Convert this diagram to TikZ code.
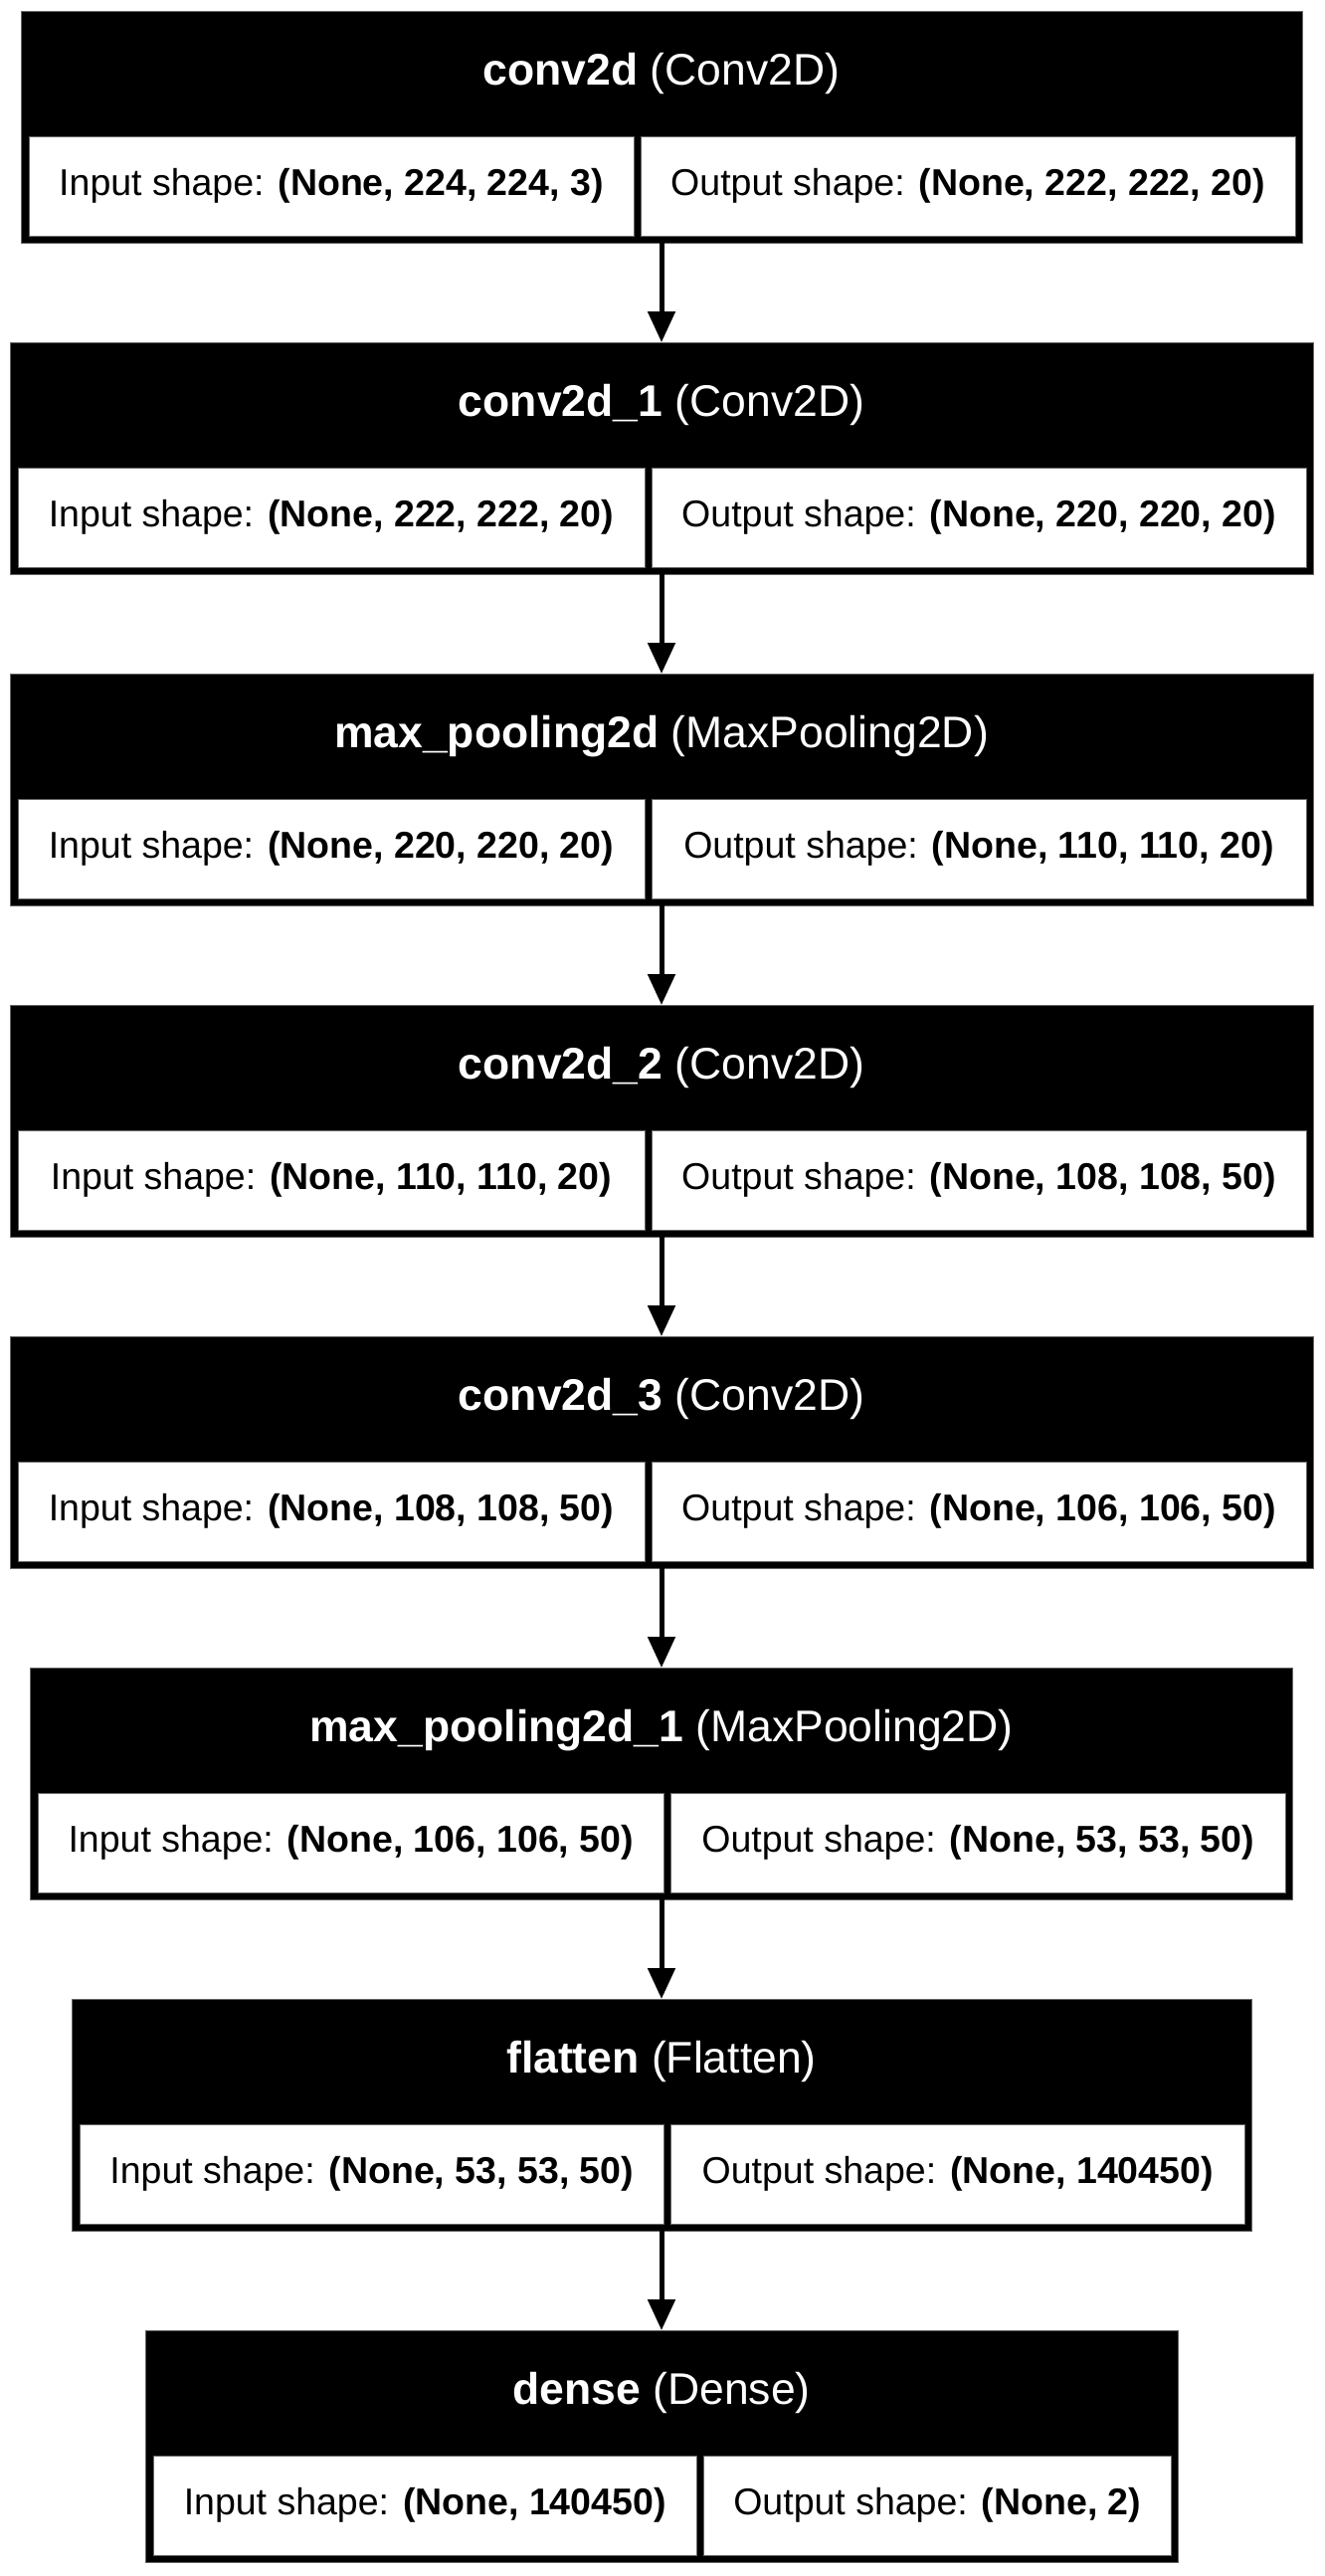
\documentclass[tikz,border=0pt]{standalone}
\usepackage{fontspec}
\setmainfont{Liberation Sans}
\usepackage{xcolor}
\usepackage{tikz}
\usetikzlibrary{arrows.meta}

\begin{document}
\begin{tikzpicture}[x=1pt, y=-1pt,
  layerbox/.style={rectangle, fill=black, draw=black!60, line width=1pt, outer sep=0pt, minimum height=233pt},
  headtext/.style={text=white, font=\fontsize{44.5}{50}\selectfont},
  shapecell/.style={rectangle, fill=white, draw=black!60, line width=1pt, minimum height=100pt, inner sep=0pt, font=\fontsize{37.5}{42}\selectfont},
  link/.style={line width=5pt, -{Triangle[length=31pt,width=27pt]}}]
\useasboundingbox (0,0) rectangle (1331,2589);

% conv2d
\node[layerbox, minimum width=1288pt] (conv2d) at (665,127.5) {};
\node[headtext] (conv2dH) at (665,74) {\textbf{conv2d} (Conv2D)};
\node[shapecell, minimum width=608pt] (conv2dIn) at (333,187) {Input shape: \textbf{(None, 224, 224, 3)}};
\node[shapecell, minimum width=658pt] (conv2dOut) at (973,187) {Output shape: \textbf{(None, 222, 222, 20)}};

% conv2d_1
\node[layerbox, minimum width=1310pt] (conv2dA) at (665,460.5) {};
\node[headtext] (conv2dAH) at (665,407) {\textbf{conv2d\_1} (Conv2D)};
\node[shapecell, minimum width=630pt] (conv2dAIn) at (333,520) {Input shape: \textbf{(None, 222, 222, 20)}};
\node[shapecell, minimum width=658pt] (conv2dAOut) at (984,520) {Output shape: \textbf{(None, 220, 220, 20)}};

% max_pooling2d
\node[layerbox, minimum width=1310pt] (pool) at (665,793.5) {};
\node[headtext] (poolH) at (665,740) {\textbf{max\_pooling2d} (MaxPooling2D)};
\node[shapecell, minimum width=630pt] (poolIn) at (333,853) {Input shape: \textbf{(None, 220, 220, 20)}};
\node[shapecell, minimum width=658pt] (poolOut) at (984,853) {Output shape: \textbf{(None, 110, 110, 20)}};

% conv2d_2
\node[layerbox, minimum width=1310pt] (conv2dB) at (665,1126.5) {};
\node[headtext] (conv2dBH) at (665,1073) {\textbf{conv2d\_2} (Conv2D)};
\node[shapecell, minimum width=630pt] (conv2dBIn) at (333,1186) {Input shape: \textbf{(None, 110, 110, 20)}};
\node[shapecell, minimum width=658pt] (conv2dBOut) at (984,1186) {Output shape: \textbf{(None, 108, 108, 50)}};

% conv2d_3
\node[layerbox, minimum width=1310pt] (conv2dC) at (665,1459.5) {};
\node[headtext] (conv2dCH) at (665,1406) {\textbf{conv2d\_3} (Conv2D)};
\node[shapecell, minimum width=630pt] (conv2dCIn) at (333,1519) {Input shape: \textbf{(None, 108, 108, 50)}};
\node[shapecell, minimum width=658pt] (conv2dCOut) at (984,1519) {Output shape: \textbf{(None, 106, 106, 50)}};

% max_pooling2d_1
\node[layerbox, minimum width=1269pt] (poolA) at (665,1792.5) {};
\node[headtext] (poolAH) at (665,1739) {\textbf{max\_pooling2d\_1} (MaxPooling2D)};
\node[shapecell, minimum width=628.5pt] (poolAIn) at (352.75,1852) {Input shape: \textbf{(None, 106, 106, 50)}};
\node[shapecell, minimum width=618.5pt] (poolAOut) at (983.25,1852) {Output shape: \textbf{(None, 53, 53, 50)}};

% flatten
\node[layerbox, minimum width=1186pt] (flatten) at (665,2125.5) {};
\node[headtext] (flattenH) at (665,2072) {\textbf{flatten} (Flatten)};
\node[shapecell, minimum width=587.5pt] (flattenIn) at (373.75,2185) {Input shape: \textbf{(None, 53, 53, 50)}};
\node[shapecell, minimum width=576.5pt] (flattenOut) at (962.75,2185) {Output shape: \textbf{(None, 140450)}};

% dense
\node[layerbox, minimum width=1038pt] (dense) at (665,2458.5) {};
\node[headtext] (denseH) at (665,2405) {\textbf{dense} (Dense)};
\node[shapecell, minimum width=546.5pt] (denseIn) at (427.25,2518) {Input shape: \textbf{(None, 140450)}};
\node[shapecell, minimum width=469.5pt] (denseOut) at (942.25,2518) {Output shape: \textbf{(None, 2)}};

% Arrows
\draw[link] (conv2d) -- (conv2dA);
\draw[link] (conv2dA) -- (pool);
\draw[link] (pool) -- (conv2dB);
\draw[link] (conv2dB) -- (conv2dC);
\draw[link] (conv2dC) -- (poolA);
\draw[link] (poolA) -- (flatten);
\draw[link] (flatten) -- (dense);
\end{tikzpicture}
\end{document}
